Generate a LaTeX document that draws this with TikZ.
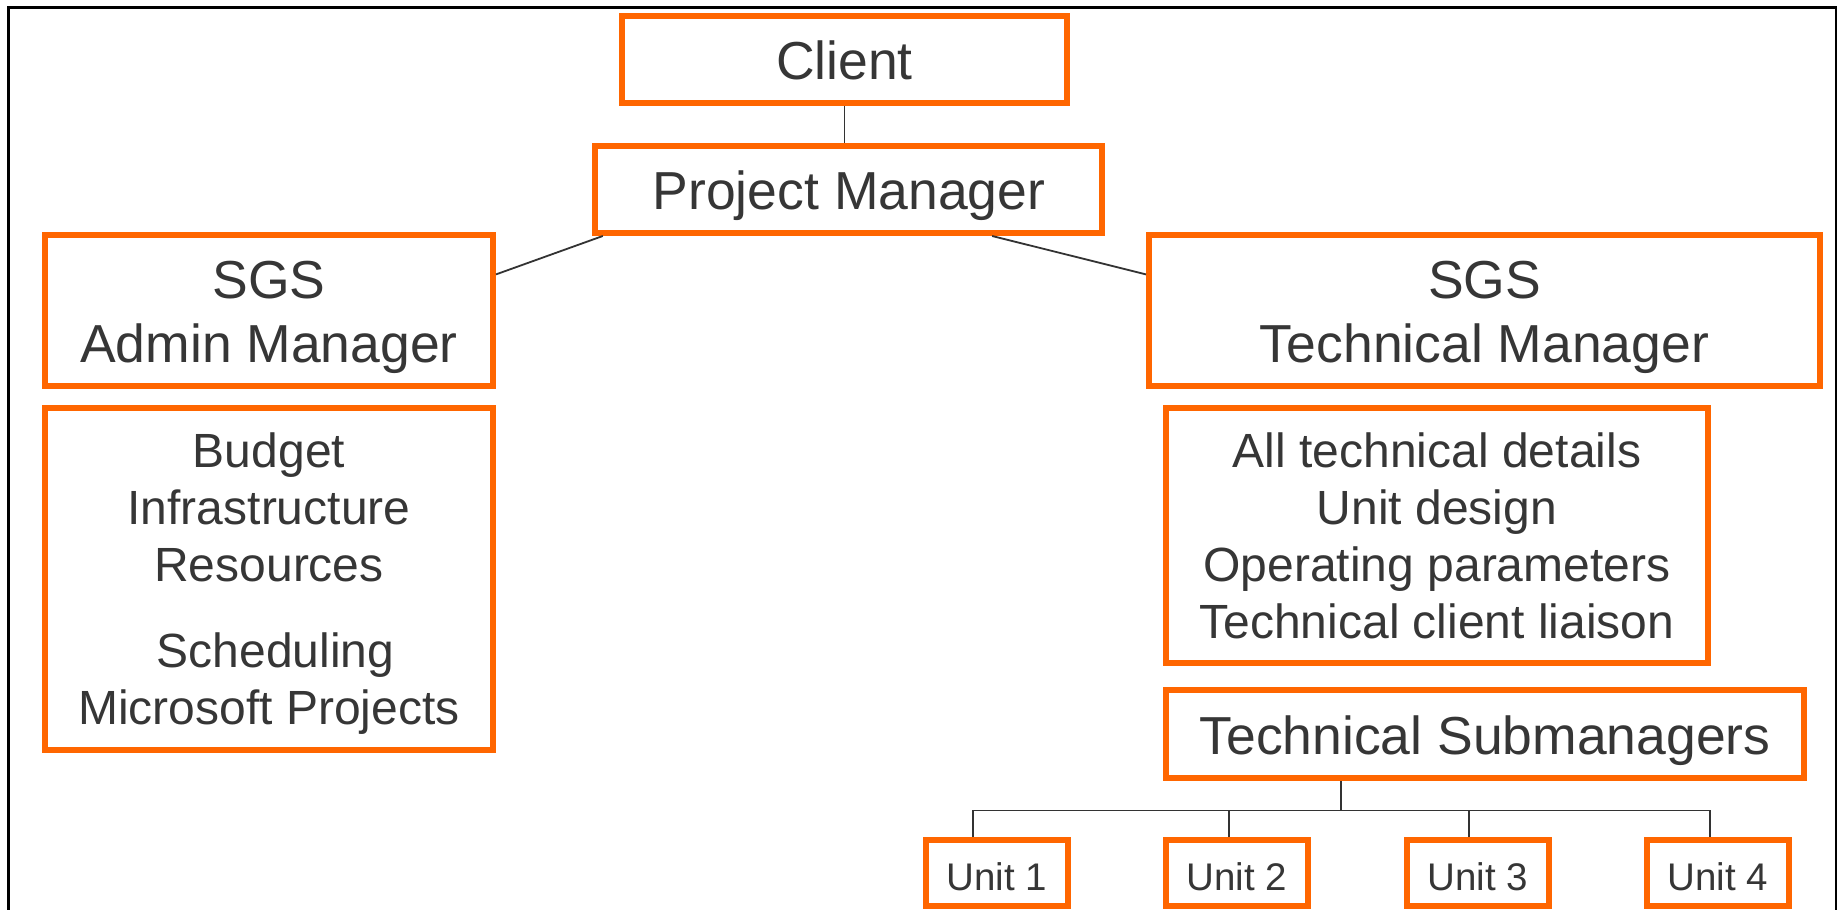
\documentclass[tikz,border=0pt]{standalone}
\usepackage{fontspec}
\setmainfont{Liberation Sans}
\usetikzlibrary{calc}
\definecolor{boxorange}{HTML}{FF6600}
\definecolor{ink}{HTML}{363636}
\definecolor{wire}{HTML}{333333}

\begin{document}
\begin{tikzpicture}[x=1pt, y=-1pt,
  box/.style={draw=boxorange, line width=5.7pt, fill=white, rectangle, inner sep=0pt},
  outer/.style 2 args={minimum width=#1pt-5.7pt, minimum height=#2pt-5.7pt},
  link/.style={draw=wire, line width=1.8pt},
  frame/.style={draw=black, line width=2.5pt},
  bigtxt/.style={text=ink, inner sep=0pt, align=center, font=\fontsize{53.5pt}{63.5pt}\selectfont},
  tasktxt/.style={text=ink, inner sep=0pt, align=center, font=\fontsize{48pt}{57pt}\selectfont},
  unittxt/.style={text=ink, inner sep=0pt, font=\fontsize{38.5pt}{46pt}\selectfont},
]
\useasboundingbox (0,0) rectangle (1839,910);
\fill[white] (0,0) rectangle (1839,910);

% outer frame (open at the bottom)
\draw[frame] (8.5,940) -- (8.5,7.5) -- (1836,7.5) -- (1836,940);

% boxes
\node[box, outer={451}{93}]  (client)    at (844.5,59.5) {};
\node[box, outer={513}{93}]  (pm)        at (848.5,189.5) {};
\node[box, outer={454}{157}] (admin)     at (269,310.5) {};
\node[box, outer={454}{348}] (admintask) at (269,579) {};
\node[box, outer={677}{157}] (tech)      at (1484.5,310.5) {};
\node[box, outer={548}{261}] (techtask)  at (1437,535.5) {};
\node[box, outer={644}{94}]  (sub)       at (1485,734) {};
\node[box, outer={148}{72}]  (u1)        at (997,873) {};
\node[box, outer={148}{72}]  (u2)        at (1237,873) {};
\node[box, outer={148}{72}]  (u3)        at (1478,873) {};
\node[box, outer={148}{72}]  (u4)        at (1718,873) {};

% texts (first baselines fixed by a 44pt strut)
\node[bigtxt, anchor=base] (client-txt) at (844.5,79) {Client};
\node[bigtxt, anchor=base] (pm-txt) at (849,209) {Project Manager};
\node[bigtxt, anchor=north] (admin-txt) at (269,254.5) {\rule{0pt}{44pt}SGS\\Admin Manager};
\node[bigtxt, anchor=north] (tech-txt) at (1484.5,254.5) {\rule{0pt}{44pt}SGS\\Technical Manager};
\node[tasktxt, anchor=north] (admintask-txt) at (269,423)
  {\rule{0pt}{44pt}Budget\\Infrastructure\\Resources\\[29.5pt]\hspace*{0.278em}Scheduling\\Microsoft Projects};
\node[tasktxt, anchor=north] (techtask-txt) at (1437,423)
  {\rule{0pt}{44pt}All technical details\\Unit design\\Operating parameters\\Technical client liaison};
\node[bigtxt, anchor=base] (sub-txt) at (1485,754) {Technical Submanagers};
\node[unittxt, anchor=base] (u1-txt) at (997,890) {Unit 1};
\node[unittxt, anchor=base] (u2-txt) at (1237,890) {Unit 2};
\node[unittxt, anchor=base] (u3-txt) at (1478,890) {Unit 3};
\node[unittxt, anchor=base] (u4-txt) at (1718,890) {Unit 4};

% connectors
\draw[link] (client.south) -- (client.south |- pm.north);
\draw[link] ($(pm.south west)!0.021!(pm.south east)$) -- ($(admin.north east)!0.27!(admin.south east)$);
\draw[link] ($(pm.south west)!0.78!(pm.south east)$) -- ($(tech.north west)!0.27!(tech.south west)$);

\coordinate (busmid) at ($(sub.south west)!0.276!(sub.south east)$);
\path (busmid) ++(0,29.5) coordinate (bus);
\coordinate (t1) at ($(u1.north west)!0.34!(u1.north east)$);
\coordinate (t2) at ($(u2.north west)!0.446!(u2.north east)$);
\coordinate (t3) at ($(u3.north west)!0.44!(u3.north east)$);
\coordinate (t4) at ($(u4.north west)!0.446!(u4.north east)$);
\draw[link] (busmid) -- (bus);
\draw[link] (t1) |- (bus) -| (t4);
\draw[link] (t2) -- (t2 |- bus);
\draw[link] (t3) -- (t3 |- bus);
\end{tikzpicture}
\end{document}
